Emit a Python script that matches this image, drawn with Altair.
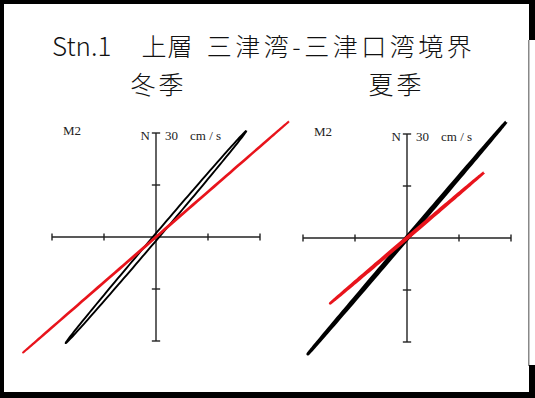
import math
import altair as alt
import pandas as pd

# ---- data -----------------------------------------------------------------
panel_names = ["冬季", "夏季"]
series_names = ["black", "red"]
constituent = "M2"
scale_value = "30"
scale_unit = "cm / s"
north_label = "N"
title_parts = ["Stn.1", "上層", "三津湾-三津口湾境界"]

# M2 tidal current ellipses (cm/s): semi-major, semi-minor, inclination (deg, CCW from east)
major_axis = {"冬季": [40.2, 50.8], "夏季": [44.0, 29.1]}
minor_axis = {"冬季": [0.70, 0.12], "夏季": [0.30, 0.20]}
inclination = {"冬季": [49.6, 41.0], "夏季": [49.5, 40.4]}

# cross-shaped scale bar, ticks every 15 cm/s out to 30 cm/s
tick_values = [-30, -15, 15, 30]
axis_extent = 30

# ---- layout ----------------------------------------------------------------
W, H = 535, 398
PX_PER_UNIT = 104 / 30.0          # 30 cm/s spans 104 px
centre_px = {"冬季": (156, 237), "夏季": (407, 238)}
ref_x, ref_y = centre_px["冬季"]
x_dom = [-ref_x / PX_PER_UNIT, (W - ref_x) / PX_PER_UNIT]
y_dom = [-(H - ref_y) / PX_PER_UNIT, ref_y / PX_PER_UNIT]
line_width = {("冬季", "black"): 1.9, ("冬季", "red"): 2.0,
              ("夏季", "black"): 3.0, ("夏季", "red"): 2.6}
colors = {"black": "#000000", "red": "#e8141c"}
AXIS_COLOR = "#222222"


def offset(panel):
    px, py = centre_px[panel]
    return (px - ref_x) / PX_PER_UNIT, (ref_y - py) / PX_PER_UNIT


# ellipse outlines
rows = []
for p in panel_names:
    ox, oy = offset(p)
    for j, s in enumerate(series_names):
        a, b = major_axis[p][j], minor_axis[p][j]
        th = math.radians(inclination[p][j])
        for i in range(181):
            t = 2 * math.pi * i / 180
            u = a * math.cos(th) * math.cos(t) - b * math.sin(th) * math.sin(t)
            v = a * math.sin(th) * math.cos(t) + b * math.cos(th) * math.sin(t)
            rows.append({"panel": p, "series": s, "i": i, "u": u + ox, "v": v + oy,
                         "w": line_width[(p, s)]})
ell = pd.DataFrame(rows)

# scale cross and its ticks
seg = []
for p in panel_names:
    ox, oy = offset(p)
    seg.append({"x": -axis_extent + ox, "x2": axis_extent + ox, "y": oy, "y2": oy})
    seg.append({"x": ox, "x2": ox, "y": -axis_extent + oy, "y2": axis_extent + oy})
    for tv in tick_values:
        seg.append({"x": tv + ox, "x2": tv + ox, "y": -1.0 + oy, "y2": 1.0 + oy})
        seg.append({"x": -1.2 + ox, "x2": 1.2 + ox, "y": tv + oy, "y2": tv + oy})
segs = pd.DataFrame(seg)

xs = alt.Scale(domain=x_dom, nice=False, zero=False)
ys = alt.Scale(domain=y_dom, nice=False, zero=False)

cross = alt.Chart(segs).mark_rule(color=AXIS_COLOR, strokeWidth=1.4).encode(
    x=alt.X("x:Q", scale=xs, axis=None), x2="x2:Q",
    y=alt.Y("y:Q", scale=ys, axis=None), y2="y2:Q",
)


def ellipse_layer(series):
    return alt.Chart(ell).transform_filter(
        alt.datum.series == series
    ).mark_line(color=colors[series], strokeJoin="round").encode(
        x=alt.X("u:Q", scale=xs, axis=None),
        y=alt.Y("v:Q", scale=ys, axis=None),
        detail="panel:N",
        order="i:Q",
        strokeWidth=alt.StrokeWidth("w:Q", scale=None),
    )


one = alt.Data(values=[{}])


def label(text, x, y, size, font, align="left", weight="normal", color="#222222"):
    return alt.Chart(one).mark_text(
        text=text, font=font, fontSize=size, align=align, baseline="alphabetic",
        fontWeight=weight, color=color,
    ).encode(x=alt.value(x), y=alt.value(y))


def spaced(text, x_start, y, size, pitch, narrow=12, font="Noto Sans CJK JP",
           color="#111111"):
    """Wide-tracked text: one glyph per slot, fixed pitch for full-width glyphs."""
    recs, x = [], x_start
    for ch in text:
        adv = pitch if ord(ch) > 0x2E80 else narrow
        recs.append({"ch": ch, "cx": x + adv / 2, "cy": y})
        x += adv
    return alt.Chart(pd.DataFrame(recs)).mark_text(
        font=font, fontSize=size, align="center", baseline="alphabetic", color=color,
        fontWeight=300,
    ).encode(
        x=alt.X("cx:Q", scale=None), y=alt.Y("cy:Q", scale=None), text="ch:N"
    )


SERIF = "Liberation Serif"
CJK = "Noto Sans CJK JP"

texts = []
for p in panel_names:
    cx, cy = centre_px[p]
    texts += [
        label(constituent, cx - 93, cy - 102, 13, SERIF),
        label(north_label, cx - 6, cy - 97, 13, SERIF, align="right"),
        label(scale_value, cx + 9, cy - 97, 13, SERIF),
        label(scale_unit, cx + 34, cy - 97, 13, SERIF),
    ]

texts += [
    label(title_parts[0], 52, 56, 26, CJK, weight=300, color="#111111"),
    spaced(title_parts[1], 141, 56, 25, 26),
    spaced(title_parts[2], 205, 56, 25, 28.5),
    spaced(panel_names[0], 129, 94, 25, 28),
    spaced(panel_names[1], 367, 94, 25, 28),
]


def bar(x, x2, y, y2, color="#000000"):
    return alt.Chart(one).mark_rect(color=color).encode(
        x=alt.value(x), x2=alt.value(x2), y=alt.value(y), y2=alt.value(y2)
    )


frame = [
    bar(0, W, 0, 4),
    bar(0, 4, 0, H),
    bar(0, W, 392, H),
    bar(529, W, 0, 40),
    bar(528, 529.5, 40, 366, "#888888"),
    bar(529, W, 365, H),
]

chart = alt.layer(
    cross, ellipse_layer("black"), ellipse_layer("red"), *texts, *frame
).properties(
    width=W, height=H, padding=0, autosize=alt.AutoSizeParams(type="none"),
    background="white",
).configure_view(stroke=None)

chart.save("out.html", embed_options={"renderer": "svg", "actions": False})
